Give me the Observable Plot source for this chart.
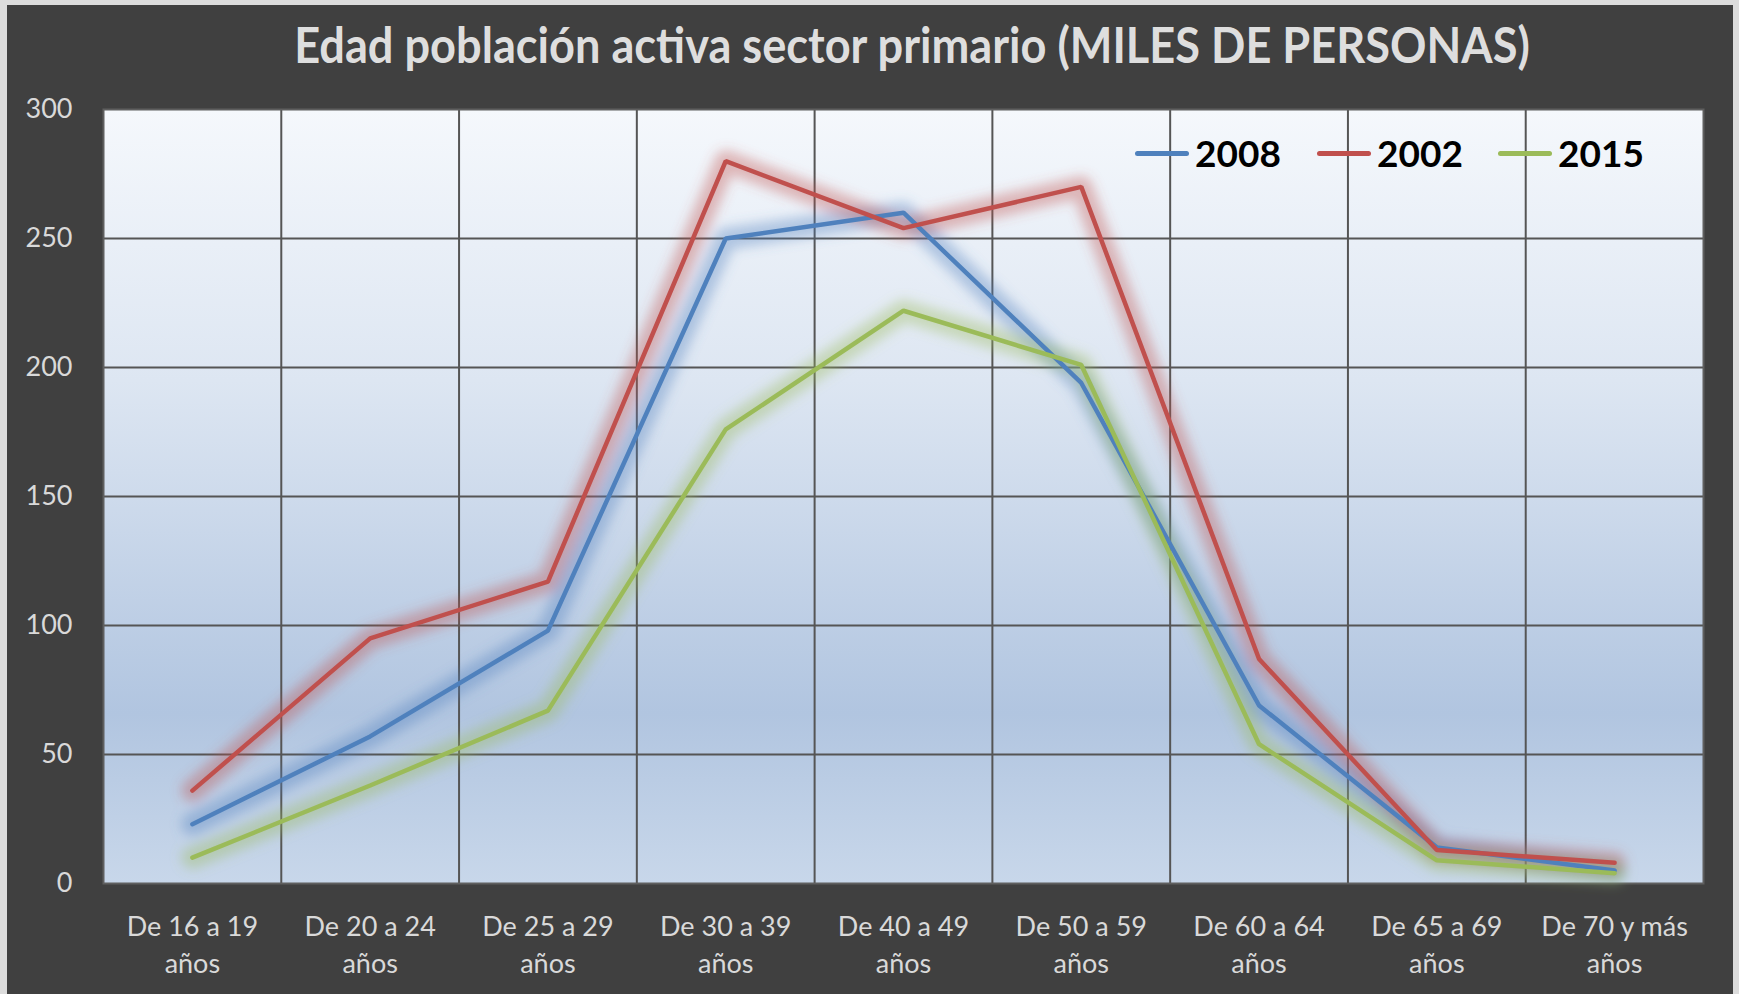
<!DOCTYPE html>
<html>
<head>
<meta charset="utf-8">
<script src="https://cdn.jsdelivr.net/npm/d3@7"></script>
<script src="https://cdn.jsdelivr.net/npm/@observablehq/plot@0.6"></script>
<style>
  html, body { margin: 0; padding: 0; }
  body { width: 1739px; height: 994px; background: #dcdcdc; position: relative; overflow: hidden; font-family: Lato, "Open Sans", sans-serif; }
  #bg { position: absolute; left: 7px; top: 5px; width: 1726px; height: 989px; background: #404040; }
  #chart { position: absolute; left: 0; top: 0; width: 1739px; }
  #title { position: relative; height: 95px; }
  #title span { position: absolute; left: 912px; top: 23px; transform: translateX(-50%) scaleY(1.1); transform-origin: 50% 80%; white-space: nowrap;
    font-weight: 700; font-size: 46px; line-height: 46px; color: #dedede; }
  .leg { position: absolute; top: 134px; height: 37px; }
  .leg i { position: absolute; left: 0; top: 17px; width: 54px; height: 5px; border-radius: 3px; }
  .leg b { position: absolute; left: 60px; top: 0; font-size: 37px; line-height: 37px; font-weight: 700; color: #000; white-space: nowrap; }
</style>
</head>
<body>
<div id="bg"></div>
<div id="chart">
  <div id="title"><span>Edad población activa sector primario (MILES DE PERSONAS)</span></div>
</div>
<div id="legend"></div>
<script>
// ---- data ----
const categories = [
  "De 16 a 19\naños", "De 20 a 24\naños", "De 25 a 29\naños", "De 30 a 39\naños",
  "De 40 a 49\naños", "De 50 a 59\naños", "De 60 a 64\naños", "De 65 a 69\naños",
  "De 70 y más\naños"
];
const seriesNames = ["2008", "2002", "2015"];
const seriesColors = ["#4f81bd", "#c0504d", "#9bbb59"];
const values2008 = [23, 57, 98, 250, 260, 194, 69, 14, 5];
const values2002 = [36, 95, 117, 280, 254, 270, 87, 13, 8];
const values2015 = [10, 38, 67, 176, 222, 201, 54, 9, 4];
const yTicks = [0, 50, 100, 150, 200, 250, 300];

const seriesValues = [values2008, values2002, values2015];
const rows = seriesNames.flatMap((s, k) =>
  seriesValues[k].map((v, i) => ({ series: s, idx: i, value: v })));
const boundaries = categories.slice(1).map((_, i) => i + 0.5);
const catIdx = categories.map((_, i) => i);

// ---- title fit ----
const tspan = document.querySelector("#title span");
const targetW = 1236;
const w0 = tspan.getBoundingClientRect().width;
if (w0 > 0) tspan.style.fontSize = (46 * targetW / w0) + "px";

const defs = () => {
  const d = d3.create("svg:defs");
  const g = d.append("linearGradient").attr("id", "bgGrad")
    .attr("x1", 0).attr("y1", 0).attr("x2", 0).attr("y2", 1);
  [[0, "#f5f8fc"], [0.35, "#dde6f2"], [0.78, "#b1c5e0"], [1, "#c8d7ea"]]
    .forEach(([o, c]) => g.append("stop").attr("offset", o).attr("stop-color", c));
  d.append("filter").attr("id", "glow")
    .attr("x", "-10%").attr("y", "-10%").attr("width", "120%").attr("height", "120%")
    .append("feGaussianBlur").attr("stdDeviation", 6);
  return d.node();
};

const color = { domain: seriesNames, range: seriesColors };

const plot = Plot.plot({
  width: 1739,
  height: 899,
  marginTop: 14,
  marginBottom: 111,
  marginLeft: 103,
  marginRight: 36,
  style: { background: "transparent", fontFamily: "Lato, 'Open Sans', sans-serif", color: "#d9d9d9", overflow: "visible" },
  x: { type: "linear", domain: [-0.5, categories.length - 0.5] },
  y: { domain: [0, 300] },
  color,
  marks: [
    defs,
    Plot.frame({ fill: "url(#bgGrad)" }),
    Plot.ruleY(yTicks.slice(1, -1), { stroke: "#555", strokeWidth: 2 }),
    Plot.ruleX(boundaries, { stroke: "#555", strokeWidth: 2 }),
    Plot.frame({ stroke: "#5f5f5f", strokeWidth: 2 }),
    Plot.axisY({ ticks: yTicks, tickSize: 0, tickPadding: 31, fontSize: 27, label: null, fill: "#d9d9d9" }),
    Plot.axisX({ ticks: catIdx, tickFormat: i => categories[i], tickSize: 0, tickPadding: 26,
      fontSize: 27, lineHeight: 1.38, label: null, fill: "#d9d9d9" }),
    Plot.line(rows, { x: "idx", y: "value", z: "series", stroke: "series",
      strokeWidth: 22, strokeOpacity: 0.38, strokeLinejoin: "round", strokeLinecap: "round" }),
    Plot.line(rows, { x: "idx", y: "value", z: "series", stroke: "series",
      strokeWidth: 4.5, strokeLinejoin: "miter", strokeLinecap: "round" })
  ]
});
d3.select(plot).selectAll('g[stroke-width="22"]').attr("filter", "url(#glow)");
document.getElementById("chart").appendChild(plot);

// ---- legend (inside plot area, as in the reference) ----
const legendX = [1135, 1317, 1498];
const legend = document.getElementById("legend");
seriesNames.forEach((s, k) => {
  const d = document.createElement("div");
  d.className = "leg";
  d.style.left = legendX[k] + "px";
  d.innerHTML = `<i style="background:${seriesColors[k]}"></i><b>${s}</b>`;
  legend.appendChild(d);
});
</script>
</body>
</html>
